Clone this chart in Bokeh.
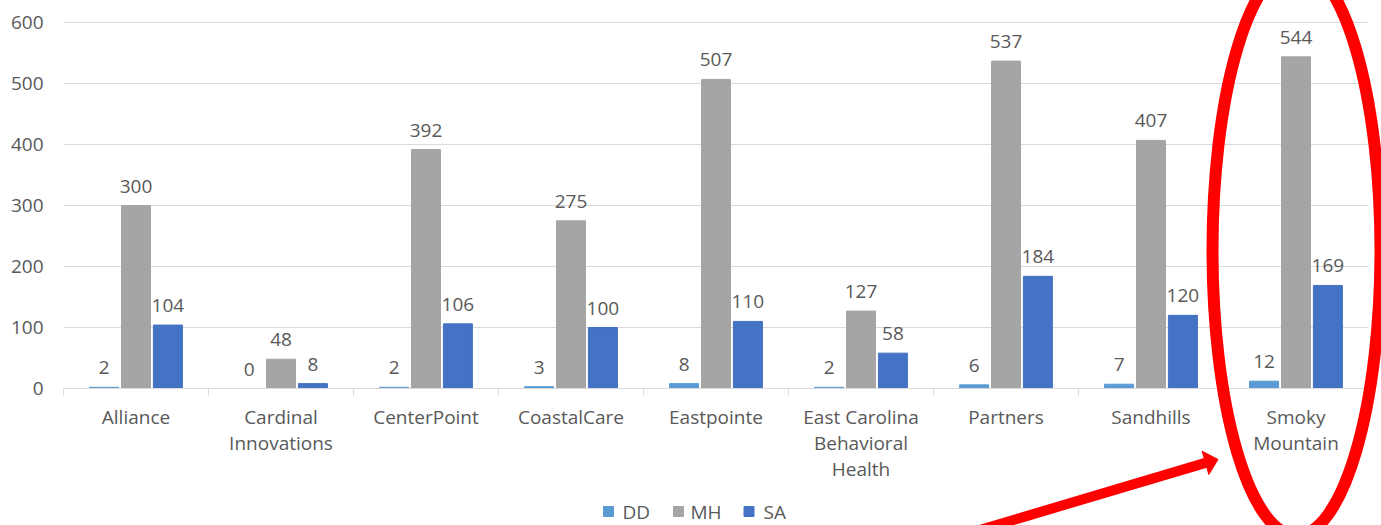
import numpy as np
from bokeh.plotting import figure
from bokeh.models import (Range1d, FixedTicker, ColumnDataSource, LabelSet)
from bokeh.core.properties import value
from bokeh.embed import file_html
from bokeh.resources import INLINE

# ---- data ----
categories = ["Alliance", "Cardinal\nInnovations", "CenterPoint", "CoastalCare", "Eastpointe",
              "East Carolina\nBehavioral\nHealth", "Partners", "Sandhills", "Smoky\nMountain"]
dd = [2, 0, 2, 3, 8, 2, 6, 7, 12]
mh = [300, 48, 392, 275, 507, 127, 537, 407, 544]
sa = [104, 8, 106, 100, 110, 58, 184, 120, 169]
series_names = ["DD", "MH", "SA"]
y_ticks = [0, 100, 200, 300, 400, 500, 600]

# ---- style ----
FONT = "Open Sans"
TEXT = "#595959"
GRID = "#D9D9D9"
RED = "#FF0000"
colors = ["#5B9BD5", "#A5A5A5", "#4472C4"]
offsets = [-0.22, 0.0, 0.22]
BAR_W = 0.2

# layout (pixels)
LEFT, TOP, FW, FH, Y_MAX = 63, 10, 1305, 378, 620

n = len(categories)
centers = np.arange(n) + 0.5

p = figure(frame_width=FW, frame_height=FH, x_range=Range1d(0, n), y_range=Range1d(0, Y_MAX),
           output_backend="svg", toolbar_location=None, min_border_left=LEFT,
           min_border_right=13, min_border_top=TOP, min_border_bottom=137)
p.outline_line_color = None
p.background_fill_color = "white"
p.border_fill_color = "white"


def px_to_data(px, py):
    """convert a picture pixel position to data units (for annotations)"""
    return (px - LEFT) / (FW / n), (TOP + FH - py) / (FH / Y_MAX)


# x axis
xa = p.xaxis[0]
xa.ticker = FixedTicker(ticks=list(centers), minor_ticks=list(range(n + 1)))
xa.major_label_overrides = {float(c): lab for c, lab in zip(centers, categories)}
xa.axis_line_color = GRID
xa.axis_line_width = 1
xa.major_tick_line_color = None
xa.major_tick_out = 0
xa.major_tick_in = 0
xa.minor_tick_line_color = GRID
xa.minor_tick_out = 7
xa.minor_tick_in = 0
xa.major_label_text_font = FONT
xa.major_label_text_font_size = "19px"
xa.major_label_text_color = TEXT
xa.major_label_text_line_height = 1.0
xa.major_label_standoff = 8

# y axis
ya = p.yaxis[0]
ya.ticker = FixedTicker(ticks=y_ticks)
ya.axis_line_color = None
ya.major_tick_line_color = None
ya.minor_tick_line_color = None
ya.major_tick_out = 0
ya.major_tick_in = 0
ya.major_label_text_font = FONT
ya.major_label_text_font_size = "19px"
ya.major_label_text_color = TEXT
ya.major_label_standoff = 20

p.xgrid.visible = False
p.ygrid.ticker = FixedTicker(ticks=y_ticks)
p.ygrid.grid_line_color = GRID
p.ygrid.grid_line_width = 1

# bars + labels
for name, vals, col, off in zip(series_names, [dd, mh, sa], colors, offsets):
    src = ColumnDataSource(dict(x=centers + off, top=vals, lab=[str(v) for v in vals]))
    p.vbar(x="x", top="top", width=BAR_W, source=src, fill_color=col, line_color=col)
    p.add_layout(LabelSet(x="x", y="top", text="lab", source=src, text_align="center",
                          text_baseline="alphabetic", y_offset=13, text_font=value(FONT),
                          text_font_size=value("19px"), text_color=value(TEXT)))

# legend at the bottom (drawn on the overlay level so it may sit below the frame)
sq_px = [608, 678, 748.5]
tx_px = [622, 690, 763]
LEG_Y = 511
SQ = 5  # half size of a legend square, px
for cx, col in zip(sq_px, colors):
    corners = [px_to_data(cx + dx, LEG_Y + dy) for dx, dy in
               [(-SQ, -SQ), (SQ, -SQ), (SQ, SQ), (-SQ, SQ)]]
    p.patch(x=[c[0] for c in corners], y=[c[1] for c in corners], fill_color=col,
            line_color=col, line_width=1, level="overlay")
tx_x = [px_to_data(v, LEG_Y)[0] for v in tx_px]
leg_y = px_to_data(0, LEG_Y)[1]
p.text(x=tx_x, y=[leg_y] * 3, text=series_names, text_font=value(FONT),
       text_font_size=value("19px"), text_color=TEXT, text_align="left",
       text_baseline="middle", level="overlay")

# red highlight ellipse and arrow (annotation drawn on the overlay level)
ex, ey = px_to_data(1296, 250)
p.ellipse(x=[ex], y=[ey], width=[168], height=[570], width_units="screen",
          height_units="screen", fill_color=None, line_color=RED, line_width=12,
          level="overlay")
tail = px_to_data(960, 535.2)
base = px_to_data(1205, 462.4)
head = [px_to_data(*pt) for pt in [(1217.5, 459), (1201.7, 450.7), (1208.3, 474)]]
p.segment(x0=[tail[0]], y0=[tail[1]], x1=[base[0]], y1=[base[1]], line_color=RED,
          line_width=10, level="overlay")
p.patch(x=[h[0] for h in head], y=[h[1] for h in head], fill_color=RED,
        line_color=RED, line_width=1, level="overlay")

open("out.html", "w").write(file_html(p, INLINE))
